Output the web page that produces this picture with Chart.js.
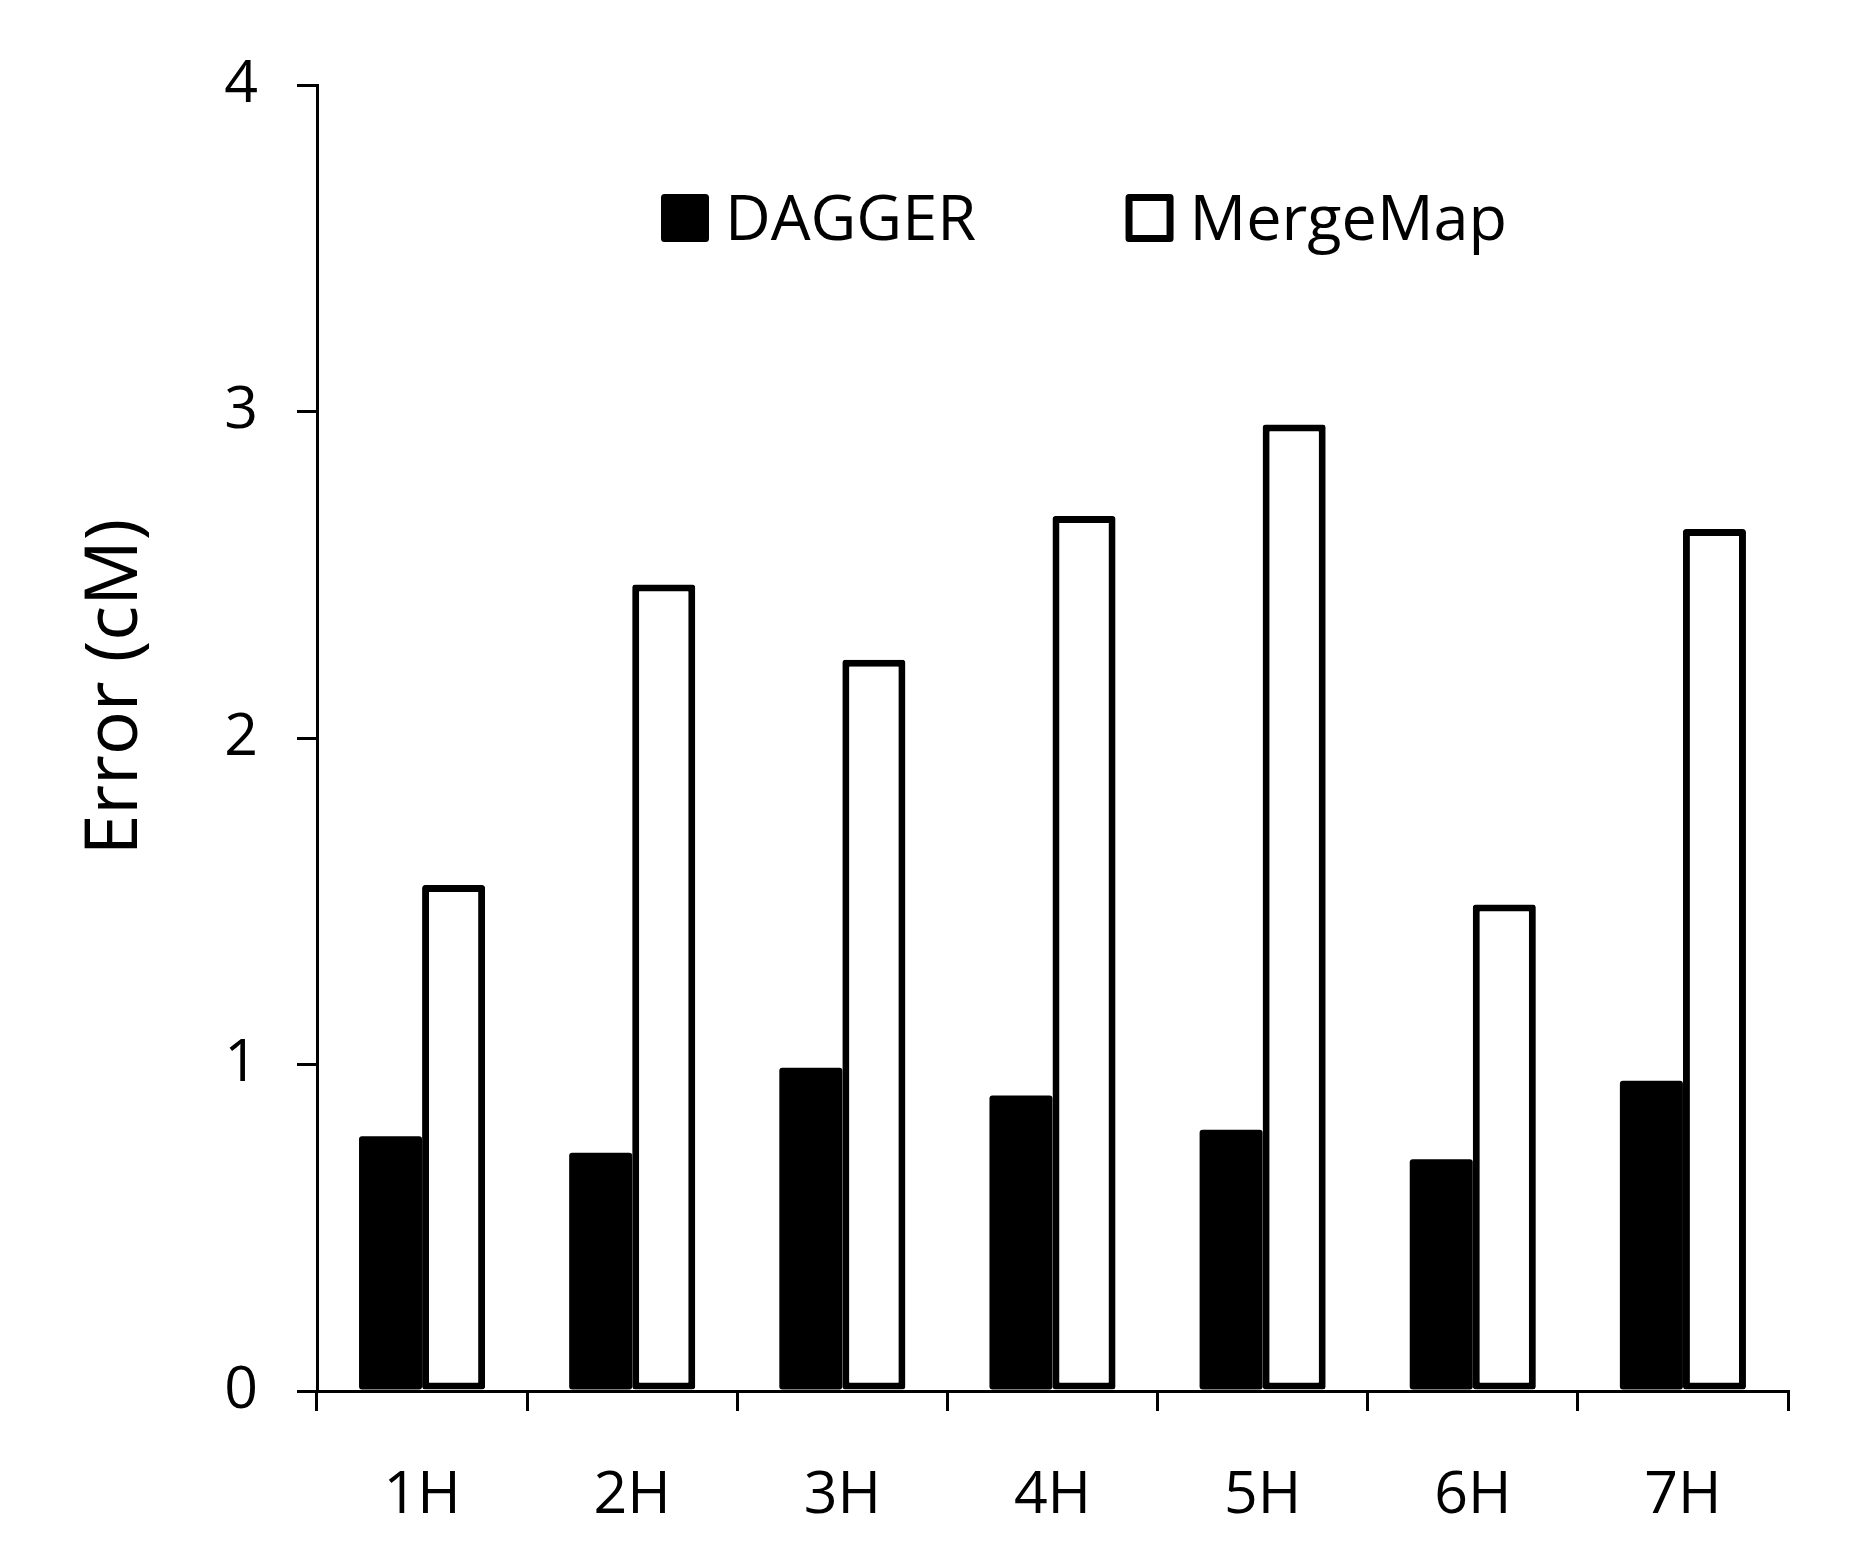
<!DOCTYPE html>
<html>
<head>
<meta charset="utf-8">
<script src="https://cdn.jsdelivr.net/npm/chart.js@4/dist/chart.umd.min.js"></script>
<style>
  html, body { margin: 0; padding: 0; background: #fff; }
  #wrap { width: 1859px; height: 1563px; }
</style>
</head>
<body>
<div id="wrap"><canvas id="errorChart" width="1859" height="1563"></canvas></div>
<script>
const categories = ['1H', '2H', '3H', '4H', '5H', '6H', '7H'];
const daggerError = [0.78, 0.73, 0.99, 0.905, 0.80, 0.71, 0.95];
const mergeMapError = [1.55, 2.47, 2.24, 2.68, 2.96, 1.49, 2.64];
const yTicks = [0, 1, 2, 3, 4];
const yTitle = 'Error (cM)';

const FONT = "'Open Sans', 'Noto Sans', sans-serif";

// legend sits inside the plot, one row, built from the datasets
const insideLegend = {
    id: 'insideLegend',
    afterDraw(chart) {
        const ctx = chart.ctx;
        const box = 41;
        let x = 664.5;
        const y = 197.5;
        ctx.save();
        ctx.font = '63px ' + FONT;
        ctx.textBaseline = 'alphabetic';
        ctx.textAlign = 'left';
        chart.data.datasets.forEach(ds => {
            ctx.fillStyle = ds.backgroundColor;
            ctx.strokeStyle = ds.borderColor;
            ctx.lineWidth = 7;
            ctx.lineJoin = 'round';
            ctx.fillRect(x, y, box, box);
            ctx.strokeRect(x, y, box, box);
            const tx = x + box + 19.5;
            ctx.fillStyle = '#000';
            ctx.fillText(ds.label, tx, 240);
            x = tx + ctx.measureText(ds.label).width + 153;
        });
        ctx.restore();
    }
};

// rotated y title, a little above the middle of the axis like the original
const yTitlePlugin = {
    id: 'yTitlePlugin',
    afterDraw(chart) {
        const ctx = chart.ctx;
        ctx.save();
        ctx.translate(137, 687);
        ctx.rotate(-Math.PI / 2);
        ctx.font = '73px ' + FONT;
        ctx.fillStyle = '#000';
        ctx.textAlign = 'center';
        ctx.textBaseline = 'alphabetic';
        ctx.fillText(yTitle, 0, 0);
        ctx.restore();
    }
};

const ctx = document.getElementById('errorChart').getContext('2d');
const errorChart = new Chart(ctx, {
    type: 'bar',
    data: {
        labels: categories,
        datasets: [{
            label: 'DAGGER',
            data: daggerError,
            backgroundColor: '#000',
            borderColor: '#000',
            borderWidth: 0,
            borderRadius: 3,
            borderSkipped: false
        }, {
            label: 'MergeMap',
            data: mergeMapError,
            backgroundColor: '#fff',
            borderColor: '#000',
            borderWidth: 7,
            borderRadius: 3,
            borderSkipped: false
        }]
    },
    options: {
        responsive: false,
        animation: false,
        devicePixelRatio: 1,
        layout: { padding: { left: 0, top: 85, right: 71, bottom: 0 } },
        datasets: { bar: { categoryPercentage: 0.6, barPercentage: 1.0 } },
        plugins: {
            legend: { display: false },
            tooltip: { enabled: false }
        },
        scales: {
            x: {
                offset: true,
                grid: {
                    offset: true,
                    drawOnChartArea: false,
                    drawTicks: true,
                    tickLength: 20,
                    tickWidth: 3,
                    color: '#000',
                    lineWidth: 3
                },
                border: { display: true, color: '#000', width: 3 },
                ticks: {
                    color: '#000',
                    padding: 50,
                    font: { family: FONT, size: 59 }
                },
                afterFit(scale) { scale.height = 1563 - 1391; }
            },
            y: {
                min: 0,
                max: yTicks[yTicks.length - 1],
                afterBuildTicks(scale) { scale.ticks = yTicks.map(v => ({ value: v })); },
                grid: {
                    drawOnChartArea: false,
                    drawTicks: true,
                    tickLength: 20,
                    tickWidth: 3,
                    color: '#000',
                    lineWidth: 3
                },
                border: { display: true, color: '#000', width: 3 },
                ticks: {
                    color: '#000',
                    padding: 39,
                    font: { family: FONT, size: 59 }
                },
                afterFit(scale) { scale.width = 317; }
            }
        }
    },
    plugins: [insideLegend, yTitlePlugin]
});
</script>
</body>
</html>
